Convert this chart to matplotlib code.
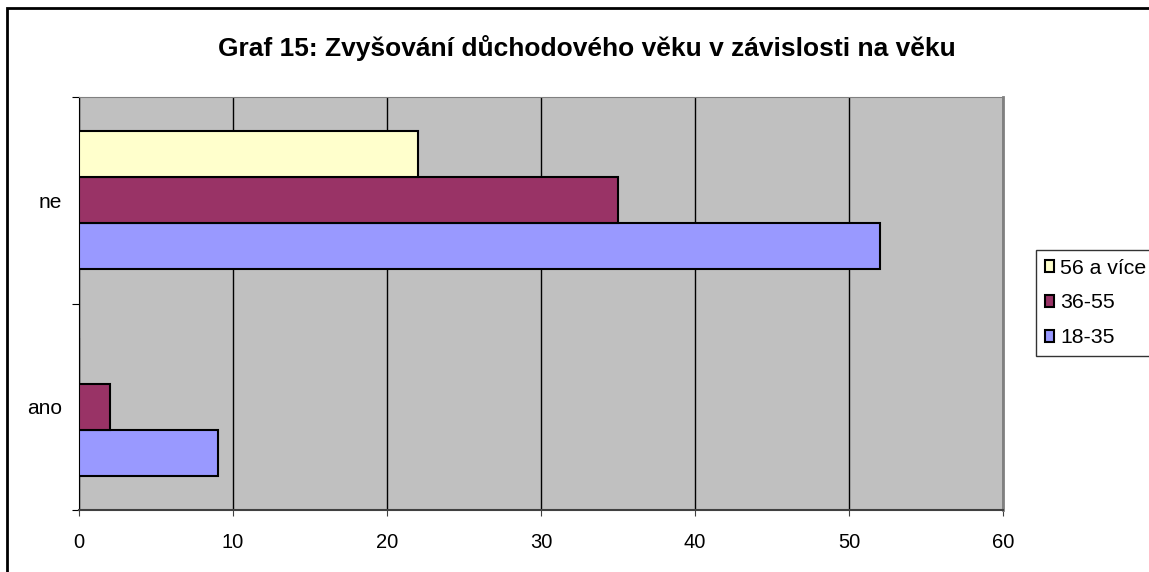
import matplotlib.pyplot as plt
from matplotlib.patches import Rectangle
import numpy as np

plt.rcParams['font.family'] = ['Liberation Sans', 'DejaVu Sans']

categories = ['ano', 'ne']
series = ['18-35', '36-55', '56 a více']
values_18_35 = [9, 52]
values_36_55 = [2, 35]
values_56 = [0, 22]
colors = ['#9999FF', '#993366', '#FFFFCC']

fig = plt.figure(figsize=(11.49, 5.72), dpi=100)
ax = fig.add_axes([79/1149, 62/572, 924/1149, 413/572])
ax.set_facecolor('#C0C0C0')

y = np.arange(len(categories))
h = 0.222
bars = []
for k, vals in enumerate([values_18_35, values_36_55, values_56]):
    b = ax.barh(y + (k - 1) * h, vals, height=h, color=colors[k],
                edgecolor='black', linewidth=1.5, label=series[k], zorder=3)
    bars.append(b)

ax.set_xlim(0, 60)
ax.set_ylim(-0.5, 1.5)
ax.set_xticks(range(0, 61, 10))
ax.xaxis.grid(True, color='black', linewidth=1, zorder=0)
ax.set_axisbelow(True)

ax.set_yticks([-0.5, 0.5, 1.5])
ax.set_yticklabels([])
ax.set_yticks(y, minor=True)
ax.set_yticklabels(categories, minor=True)
ax.tick_params(axis='y', which='minor', length=0, pad=12, labelsize=15)
ax.tick_params(axis='y', which='major', length=5, color='black')
ax.tick_params(axis='x', length=4.3, pad=12, labelsize=14.5, color='#404040')

ax.spines['left'].set_color('black')
ax.spines['bottom'].set_color('#404040')
ax.spines['bottom'].set_linewidth(1.5)
ax.spines['top'].set_color('#808080')
ax.spines['right'].set_color('#808080')
ax.spines['right'].set_linewidth(2)

fig.text(587/1149, 1 - 48/572, 'Graf 15: Zvyšování důchodového věku v závislosti na věku',
         ha='center', va='center', fontsize=19, fontweight='bold')

handles = [bars[2], bars[1], bars[0]]
leg = ax.legend(handles, [series[2], series[1], series[0]],
                loc='upper left', bbox_to_anchor=(1036/1149, 1 - 250/572),
                bbox_transform=fig.transFigure, frameon=True, fancybox=False,
                edgecolor='black', fontsize=15.3, handlelength=0.45,
                handleheight=0.45, handletextpad=0.3, borderpad=0.4,
                labelspacing=0.75, borderaxespad=0)
leg.get_frame().set_linewidth(1)

fig.patches.append(Rectangle((7/1149, -0.1), 1.2, 1 - 8/572 + 0.1,
                             transform=fig.transFigure, fill=False,
                             edgecolor='black', linewidth=2, clip_on=False))

fig.savefig('out.png', dpi=100)
